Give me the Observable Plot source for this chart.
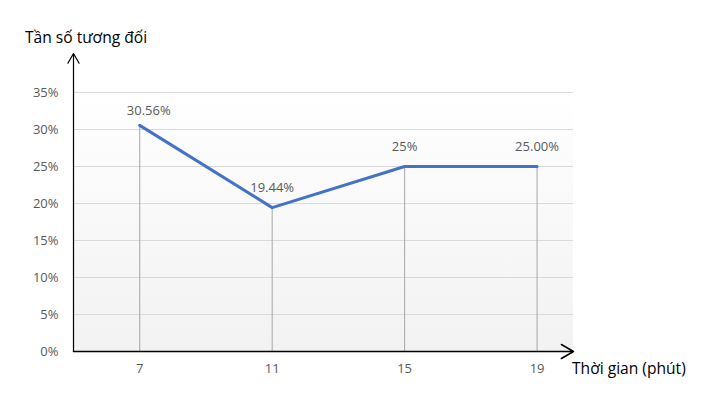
<!DOCTYPE html>
<html>
<head>
<meta charset="utf-8">
<script src="https://cdn.jsdelivr.net/npm/d3@7"></script>
<script src="https://cdn.jsdelivr.net/npm/@observablehq/plot@0.6"></script>
<style>
  html, body { margin: 0; padding: 0; background: #fff; }
  #wrap { position: relative; width: 705px; height: 394px; font-family: "Open Sans", sans-serif; }
  #wrap svg { position: absolute; left: 0; top: 0; }
  .lab { position: absolute; color: #000; font-size: 15.6px; white-space: nowrap; line-height: 1; }
</style>
</head>
<body>
<div id="wrap"></div>
<script>
const times = [7, 11, 15, 19];
const freqs = [0.3056, 0.1944, 0.25, 0.25];
const valueLabels = ["30.56%", "19.44%", "25%", "25.00%"];
const yTicks = [0, 0.05, 0.10, 0.15, 0.20, 0.25, 0.30, 0.35];
const xDomain = [5, 20.1];
const yDomain = [0, 0.35];
const yAxisTip = 0.4027;
const yTitle = "Tần số tương đối";
const xTitle = "Thời gian (phút)";

const data = times.map((t, i) => ({t, f: freqs[i], label: valueLabels[i]}));

const plot = Plot.plot({
  width: 705,
  height: 394,
  marginLeft: 73,
  marginRight: 132,
  marginTop: 92,
  marginBottom: 43,
  style: {fontFamily: "Open Sans", fontSize: "13px", background: "transparent"},
  x: {domain: xDomain},
  y: {domain: yDomain},
  marks: [
    Plot.rect([{}], {x1: xDomain[0], x2: xDomain[1], y1: yDomain[0], y2: yDomain[1], fill: "url(#bgGrad)"}),
    Plot.ruleY(yTicks.filter(d => d > 0), {stroke: "#d9d9d9", strokeWidth: 1}),
    Plot.ruleX(data, {x: "t", y1: 0, y2: "f", stroke: "#a6a6a6", strokeWidth: 1}),
    Plot.line(data, {x: "t", y: "f", stroke: "#4472C4", strokeWidth: 3}),
    Plot.text(data, {filter: (d, i) => i === 0, x: "t", y: "f", text: "label", dy: -15, dx: 9, fill: "#595959", fontSize: 13}),
    Plot.text(data, {filter: (d, i) => i > 0, x: "t", y: "f", text: "label", dy: -20, fill: "#595959", fontSize: 13}),
    Plot.axisX({ticks: times, tickSize: 0, tickPadding: 12, tickFormat: d => String(d), fill: "#595959", fontSize: 13, label: null}),
    Plot.axisY({ticks: yTicks, tickSize: 0, tickPadding: 15, tickFormat: d3.format(".0%"), fill: "#595959", fontSize: 13, label: null}),
    Plot.arrow([{x1: xDomain[0], y1: 0, x2: xDomain[0], y2: yAxisTip}], {x1: "x1", y1: "y1", x2: "x2", y2: "y2", stroke: "#000", strokeWidth: 1.2, headLength: 14, headAngle: 60}),
    Plot.arrow([{x1: xDomain[0], y1: 0, x2: xDomain[1], y2: 0}], {x1: "x1", y1: "y1", x2: "x2", y2: "y2", stroke: "#000", strokeWidth: 1.5, headLength: 14, headAngle: 60})
  ]
});

const ns = "http://www.w3.org/2000/svg";
const defs = document.createElementNS(ns, "defs");
defs.innerHTML = '<linearGradient id="bgGrad" x1="0" y1="0" x2="0" y2="1"><stop offset="0" stop-color="#ffffff"/><stop offset="1" stop-color="#f2f2f2"/></linearGradient>';
plot.insertBefore(defs, plot.firstChild);

const wrap = document.getElementById("wrap");
wrap.appendChild(plot);

const t1 = document.createElement("div");
t1.className = "lab";
t1.textContent = yTitle;
t1.style.left = "25px";
t1.style.top = "30px";
wrap.appendChild(t1);

const t2 = document.createElement("div");
t2.className = "lab";
t2.textContent = xTitle;
t2.style.left = "572px";
t2.style.top = "361px";
wrap.appendChild(t2);
</script>
</body>
</html>
